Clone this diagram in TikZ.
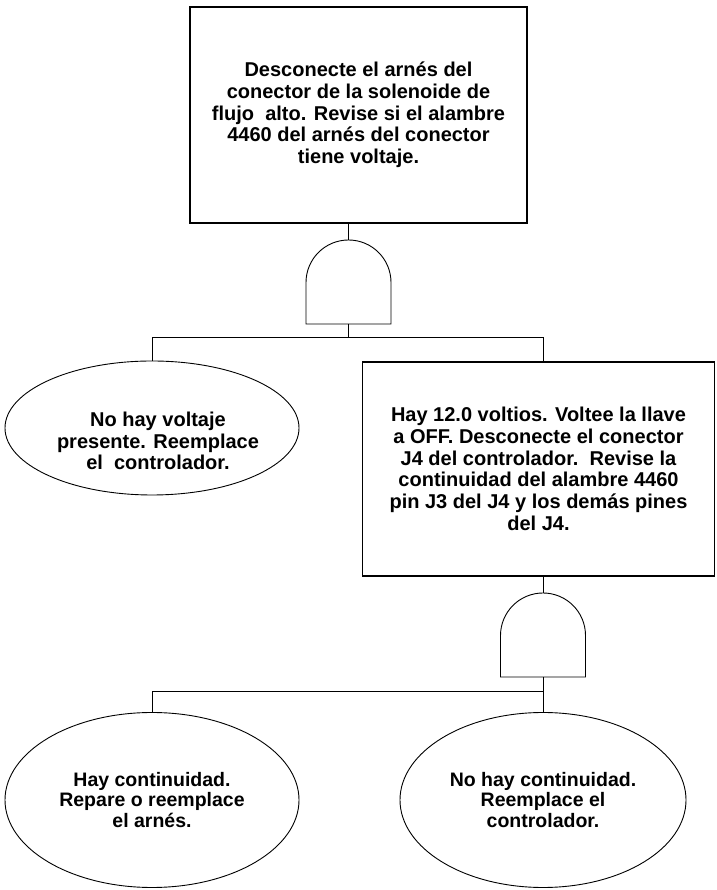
\documentclass[tikz,border=0pt]{standalone}
\usepackage{fontspec}
\setmainfont{Liberation Sans}
\usepackage{tikz}
\usetikzlibrary{positioning,shapes.geometric}

\begin{document}
\begin{tikzpicture}[
    x=1pt,y=1pt,
    txt/.style={align=center,font=\fontsize{20}{21.7}\selectfont\bfseries},
    stepbox/.style={draw,line width=1.1pt,txt},
    outcome/.style={draw,ellipse,line width=0.9pt,txt,inner sep=0pt},
    gate/.style={draw,line width=0.9pt},
    wire/.style={draw,line width=0.8pt}
]
\path[fill=white] (0,0) rectangle (716,890);
\useasboundingbox (0,0) rectangle (716,890);

\node[stepbox,minimum width=337pt,minimum height=216pt] (chk) at (358.5,775) {Desconecte el arnés del\\conector de la solenoide de\\flujo\ \ alto. Revise si el alambre\\4460 del arnés del conector\\tiene voltaje.};

\coordinate (g1) at (348.5,566);
\coordinate (g1top) at (348.5,650);
\draw[gate] (g1) ++(-42.5,0) -- ++(0,41.5) arc[start angle=180,end angle=0,radius=42.5] -- ++(0,-41.5) -- cycle;

\node[outcome,minimum width=294pt,minimum height=134pt] (novolt) at (152,462) {};
\node[txt] (novolt-txt) at (158,449) {No hay voltaje\\presente. Reemplace\\el\ \ controlador.};
\node[stepbox,minimum width=352pt,minimum height=214pt] (cont) at (538.5,421) {Hay 12.0 voltios. Voltee la llave\\a OFF. Desconecte el conector\\J4 del controlador.\ \ Revise la\\continuidad del alambre 4460\\pin J3 del J4 y los demás pines\\del J4.};

\coordinate (g2) at (543,213);
\coordinate (g2top) at (543,297);
\draw[gate] (g2) ++(-42.5,0) -- ++(0,41.5) arc[start angle=180,end angle=0,radius=42.5] -- ++(0,-41.5) -- cycle;

\node[outcome,font=\fontsize{19.5}{20.5}\selectfont\bfseries,minimum width=294pt,minimum height=175pt] (yescont) at (152,90) {Hay continuidad.\\Repare o reemplace\\el arnés.};
\node[outcome,font=\fontsize{19.5}{20.5}\selectfont\bfseries,minimum width=286pt,minimum height=175pt] (nocont) at (543,90) {No hay continuidad.\\Reemplace el\\controlador.};

\coordinate (j1) at (348.5,553);
\coordinate (k1) at (543,553);
\coordinate (j2) at (543,199);

\draw[wire] (chk.south -| g1top) -- (g1top);
\draw[wire] (g1) -- (j1);
\draw[wire] (novolt.north) |- (k1) -- (k1 |- cont.north);
\draw[wire] (cont.south -| g2top) -- (g2top);
\draw[wire] (g2) -- (j2);
\draw[wire] (yescont.north) |- (j2) -- (nocont.north);
\end{tikzpicture}
\end{document}
